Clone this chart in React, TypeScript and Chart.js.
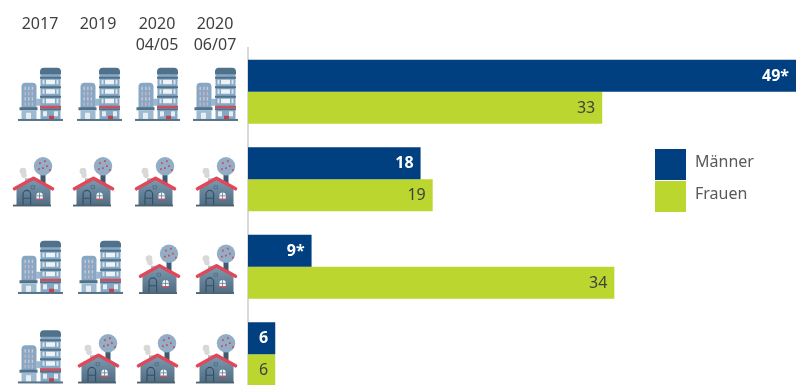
import React, { useEffect, useRef } from "react";
import { Chart, registerables } from "chart.js";

Chart.register(...registerables);

const categories = ["Wohnort A", "Wohnort B", "Wohnort C", "Wohnort D"];
const maennerValues = [49, 18, 9, 6];
const frauenValues = [33, 19, 34, 6];
const maennerNotes = ["*", "", "*", ""];
const frauenNotes = ["", "", "", ""];

const waveLabels = [["2017"], ["2019"], ["2020", "04/05"], ["2020", "06/07"]];
const iconRows = [
  ["city", "city", "city", "city"],
  ["house", "house", "house", "house"],
  ["city", "city", "house", "house"],
  ["city", "house", "house", "house"],
];

const NAVY = "#003f80";
const GREEN = "#bcd630";
const FONT = '"Noto Sans", sans-serif';

const waveCentres = [40, 98, 157, 215];
const iconLeft = [
  [18, 77, 135, 193],
  [13, 73, 135, 196],
  [18, 78, 139, 196],
  [18, 78, 137, 196],
];
const iconGround = [29, 27, 27, 29];

function drawCity(ctx: CanvasRenderingContext2D, x: number, g: number) {
  const r = (px: number, py: number, w: number, h: number, c: string) => {
    ctx.fillStyle = c;
    ctx.fillRect(x + px, g + py, w, h);
  };
  const body = "#86a8c5";
  const dark = "#4f7189";
  // low tower
  ctx.fillStyle = body;
  ctx.beginPath();
  ctx.roundRect(x + 3.5, g - 38, 15, 26, [4, 4, 0, 0]);
  ctx.fill();
  for (let c = 0; c < 3; c++) {
    for (let f = 0; f < 4; f++) {
      r(6.5 + c * 3.6, -34 + f * 5.2, 1.4, 3.4, f % 2 ? "#c7b4c4" : "#d6c4cf");
    }
  }
  r(1.5, -13.5, 18, 3, dark);
  r(3.5, -10.5, 15, 10, "#9dbad0");
  r(8, -8, 5, 7.5, "#e8edf1");
  // link between the towers
  r(18, -22, 5, 7, "#9db8ce");
  // tall tower
  r(22.5, -50, 20, 50, body);
  ctx.fillStyle = dark;
  ctx.beginPath();
  ctx.roundRect(x + 22, g - 53, 21, 6.5, [4, 4, 0, 0]);
  ctx.fill();
  [-44, -34.5, -25].forEach((y) => r(22, y, 21, 2, dark));
  [-41, -31.5, -22].forEach((y) => {
    r(24.5, y, 2, 4.5, "#dbe5ec");
    r(28, y, 9, 4.5, "#eef3f6");
    r(38.5, y, 2, 4.5, "#dbe5ec");
  });
  r(22, -15, 21, 2.8, "#c9505f");
  r(22, -12.2, 21, 1.6, dark);
  r(25, -9.5, 4, 5, "#e8edf1");
  r(36, -9.5, 4, 5, "#e8edf1");
  r(31, -5, 5, 4, "#c2404f");
  // ground line
  r(0, -1.8, 45, 2, "#557389");
}

function drawHouse(ctx: CanvasRenderingContext2D, x: number, g: number) {
  // tree behind the roof
  ctx.fillStyle = "#3f5a70";
  ctx.fillRect(x + 27.5, g - 33, 5, 12);
  ctx.fillStyle = "#92aec7";
  ctx.beginPath();
  ctx.arc(x + 30, g - 40, 9.2, 0, Math.PI * 2);
  ctx.fill();
  ctx.fillStyle = "#c9505f";
  [[-4, -4], [1, -6], [3, -1], [-1, 1], [-5, 2], [6, 3]].forEach(([dx, dy]) => {
    ctx.fillRect(x + 30 + dx, g - 40 + dy, 1.8, 1.8);
  });
  // chimney and smoke
  ctx.fillStyle = "#d8d8d8";
  ctx.beginPath();
  ctx.arc(x + 10, g - 35, 3.4, 0, Math.PI * 2);
  ctx.arc(x + 11, g - 31, 2.8, 0, Math.PI * 2);
  ctx.fill();
  ctx.fillStyle = "#aebcc8";
  ctx.fillRect(x + 12, g - 28, 5, 5);
  // walls
  const wall = ctx.createLinearGradient(0, g - 27, 0, g);
  wall.addColorStop(0, "#7b9ab1");
  wall.addColorStop(1, "#4f6b80");
  ctx.fillStyle = wall;
  ctx.beginPath();
  ctx.moveTo(x + 3.5, g - 17);
  ctx.lineTo(x + 20.5, g - 28);
  ctx.lineTo(x + 37.5, g - 17);
  ctx.lineTo(x + 37.5, g - 1);
  ctx.lineTo(x + 3.5, g - 1);
  ctx.closePath();
  ctx.fill();
  // roof
  ctx.strokeStyle = "#e0485a";
  ctx.lineWidth = 3.6;
  ctx.lineCap = "round";
  ctx.lineJoin = "round";
  ctx.beginPath();
  ctx.moveTo(x + 1.5, g - 17.5);
  ctx.lineTo(x + 20.5, g - 28);
  ctx.lineTo(x + 39.5, g - 17.5);
  ctx.stroke();
  // door
  ctx.strokeStyle = "#34506a";
  ctx.lineWidth = 1.2;
  ctx.beginPath();
  ctx.moveTo(x + 10, g - 1);
  ctx.lineTo(x + 10, g - 12);
  ctx.arc(x + 13.8, g - 12, 3.8, Math.PI, 0);
  ctx.lineTo(x + 17.6, g - 1);
  ctx.moveTo(x + 10, g - 8);
  ctx.lineTo(x + 17.6, g - 8);
  ctx.stroke();
  // round window
  ctx.fillStyle = "#f4f6f8";
  ctx.beginPath();
  ctx.arc(x + 26.6, g - 10.5, 3.2, Math.PI, 0);
  ctx.lineTo(x + 29.8, g - 7.5);
  ctx.lineTo(x + 23.4, g - 7.5);
  ctx.closePath();
  ctx.fill();
  ctx.fillStyle = "#c9505f";
  ctx.fillRect(x + 23, g - 7.5, 7.2, 1.4);
  ctx.fillStyle = "#5f7f96";
  ctx.fillRect(x + 26.2, g - 14, 0.8, 6.5);
  ctx.fillRect(x + 23.4, g - 10.8, 6.4, 0.8);
  // small attic window
  ctx.strokeStyle = "#4f6b80";
  ctx.lineWidth = 0.8;
  ctx.strokeRect(x + 18.5, g - 20.5, 3, 3);
  // ground line
  ctx.fillStyle = "#4a5f70";
  ctx.fillRect(x + 0, g - 1.6, 38, 1.8);
}

// Axis-side artwork: wave headings, the icons per row and the legend.
const sidePanel = {
  id: "sidePanel",
  afterDatasetsDraw(chart: Chart) {
    const { ctx, scales, data } = chart;
    ctx.save();
    ctx.textBaseline = "middle";

    ctx.font = `16px ${FONT}`;
    ctx.fillStyle = "#404040";
    ctx.textAlign = "center";
    waveLabels.forEach((lines, i) => {
      lines.forEach((line, l) => ctx.fillText(line, waveCentres[i], 24 + l * 21));
    });

    ctx.save();
    ctx.filter = "blur(0.6px)";
    iconRows.forEach((row, r) => {
      const ground = scales.y.getPixelForValue(r) + iconGround[r];
      row.forEach((kind, c) => {
        if (kind === "city") drawCity(ctx, iconLeft[r][c], ground);
        else drawHouse(ctx, iconLeft[r][c], ground);
      });
    });
    ctx.restore();

    ctx.textAlign = "left";
    ctx.font = `16px ${FONT}`;
    data.datasets.forEach((ds, i) => {
      const top = 149 + i * 32;
      ctx.fillStyle = ds.backgroundColor as string;
      ctx.fillRect(655, top, 31, 31);
      ctx.fillStyle = "#595959";
      ctx.fillText(ds.label as string, 695, top + 13.5);
    });
    ctx.restore();
  },
};

const barLabels = {
  id: "barLabels",
  afterDatasetsDraw(chart: Chart) {
    const { ctx } = chart;
    ctx.save();
    ctx.textAlign = "right";
    ctx.textBaseline = "middle";
    const notes = [maennerNotes, frauenNotes];
    chart.data.datasets.forEach((ds, d) => {
      ctx.font = d === 0 ? `bold 16px ${FONT}` : `16px ${FONT}`;
      ctx.fillStyle = d === 0 ? "#ffffff" : "#404040";
      chart.getDatasetMeta(d).data.forEach((bar, i) => {
        ctx.fillText(`${ds.data[i]}${notes[d][i]}`, bar.x - 7, bar.y + 0.5);
      });
    });
    ctx.restore();
  },
};

export default function App() {
  const ref = useRef<HTMLCanvasElement>(null);

  useEffect(() => {
    const chart = new Chart(ref.current!, {
      type: "bar",
      data: {
        labels: categories,
        datasets: [
          { label: "Männer", data: maennerValues, backgroundColor: NAVY },
          { label: "Frauen", data: frauenValues, backgroundColor: GREEN },
        ],
      },
      options: {
        indexAxis: "y",
        responsive: false,
        animation: false,
        layout: { padding: { left: 248, top: 48, right: 0, bottom: 0 } },
        datasets: { bar: { categoryPercentage: 0.733, barPercentage: 1 } },
        plugins: { legend: { display: false }, tooltip: { enabled: false } },
        scales: {
          x: { display: false, min: 3.75, max: 49 },
          y: {
            grid: { display: false, drawTicks: false },
            ticks: { display: false },
            border: { display: true, color: "#d9d9d9", width: 2 },
            afterFit(scale: { width: number }) {
              scale.width = 0;
            },
          },
        },
      },
      plugins: [sidePanel, barLabels],
    });
    return () => chart.destroy();
  }, []);

  return (
    <div
      style={{
        position: "fixed",
        left: 0,
        top: 0,
        width: 796,
        height: 385,
        overflow: "hidden",
        background: "#ffffff",
      }}
    >
      <canvas ref={ref} width={796} height={398} style={{ display: "block" }} />
    </div>
  );
}
